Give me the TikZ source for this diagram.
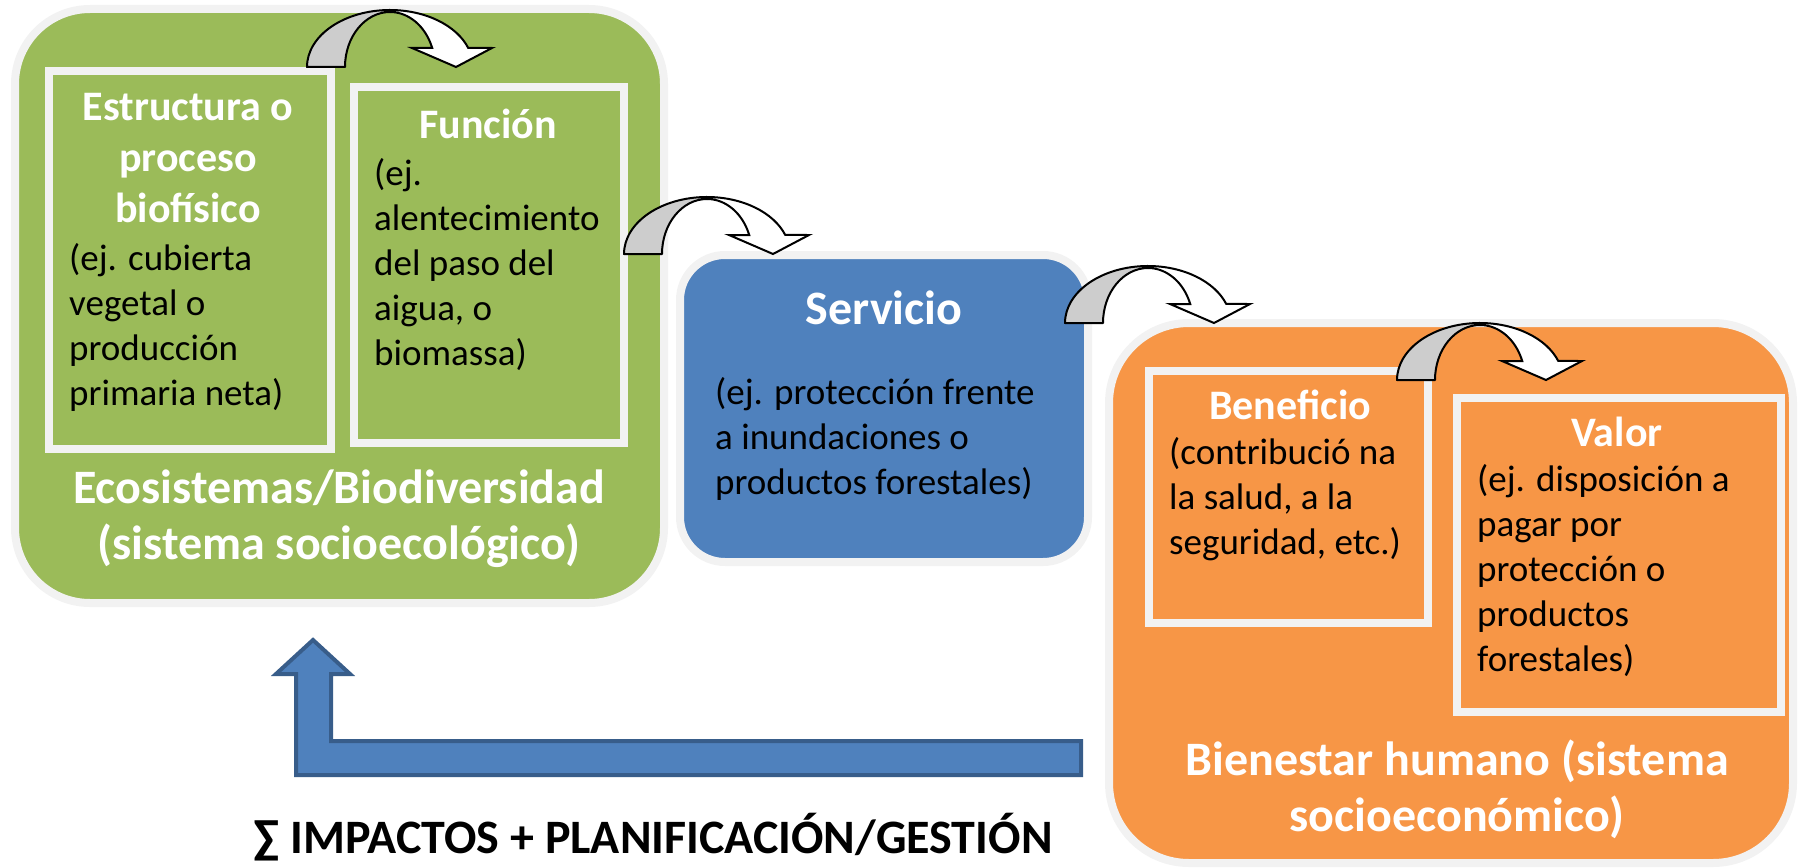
\documentclass[tikz,border=0pt]{standalone}
\usepackage{fontspec}
\setmainfont{Carlito}
\definecolor{eco}{HTML}{9BBB59}
\definecolor{serv}{HTML}{4F81BD}
\definecolor{bien}{HTML}{F79646}
\definecolor{bord}{HTML}{F2F2F2}
\definecolor{arrgray}{HTML}{CDCDCD}
\definecolor{darkblue}{HTML}{385D8A}
\tikzset{
  bigbox/.style={draw=bord, line width=8pt, rounded corners=#1, inner sep=0pt},
  inbox/.style={draw=bord, line width=8pt, inner sep=0pt},
  head/.style={anchor=base, inner sep=0pt, text=white},
  body/.style={anchor=base west, inner sep=0pt, text=black},
  curv/.pic={
    \draw[line width=2pt, fill=arrgray, line join=round]
      (-83,0) arc[start angle=-180, end angle=-90, x radius=83, y radius=57]
      -- (0,-55) arc[start angle=-90, end angle=-180, x radius=45, y radius=55] -- cycle;
    \draw[line width=2pt, fill=white, line join=miter]
      (0,-57) arc[start angle=-90, end angle=-19.5, x radius=83, y radius=57]
      -- (102,-19) -- (66,0) -- (22,-19) -- (42.2,-19)
      arc[start angle=-20.2, end angle=-90, x radius=45, y radius=55] -- cycle;
  }
}
\newcommand\hd[1]{\fontsize{42}{51}\selectfont\bfseries #1}
\newcommand\bd[1]{\fontsize{37}{45}\selectfont #1}
\newcommand\bg[1]{\fontsize{48}{56}\selectfont\bfseries #1}
\begin{document}
\begin{tikzpicture}[x=1pt,y=-1pt]
\useasboundingbox (0,0) rectangle (1798,867);
% big boxes
\node[bigbox=75pt, fill=eco, minimum width=649pt, minimum height=594pt] (ecobox) at (339.5,306) {};
\node[bigbox=45pt, fill=serv, minimum width=408pt, minimum height=307pt] (servbox) at (884,408.5) {};
\node[bigbox=80pt, fill=bien, minimum width=684pt, minimum height=540pt] (bienbox) at (1451,593) {};
% inner boxes
\node[inbox, fill=eco, minimum width=282pt, minimum height=378pt] (estr) at (190,260) {};
\node[inbox, fill=eco, minimum width=270pt, minimum height=356pt] (func) at (489,265) {};
\node[inbox, fill=bien, minimum width=279pt, minimum height=252pt] (bene) at (1288.5,497) {};
\node[inbox, fill=bien, minimum width=324pt, minimum height=314pt] (valor) at (1619,555) {};
% texts green
\node[head] (estrT) at (188,120) {\parbox[t]{290pt}{\centering\hd{Estructura o\\proceso\\biofísico}}};
\node[body] (estrB) at (69,270) {\parbox[t]{260pt}{\raggedright\bd{(ej. cubierta\\vegetal o\\producción\\primaria neta)}}};
\node[head] (funcT) at (488,138) {\parbox[t]{260pt}{\centering\hd{Función}}};
\node[body] (funcB) at (374,185) {\parbox[t]{250pt}{\raggedright\bd{(ej.\\alentecimiento\\del paso del\\aigua, o\\biomassa)}}};
\node[head] (ecoT) at (339,503) {\parbox[t]{640pt}{\centering\bg{Ecosistemas/Biodiversidad\\(sistema socioecológico)}}};
% texts blue
\node[head] (servT) at (884,324) {\parbox[t]{380pt}{\centering\bg{Servicio}}};
\node[body] (servB) at (715,404) {\parbox[t]{360pt}{\raggedright\bd{(ej. protección frente\\a inundaciones o\\productos forestales)}}};
% texts orange
\node[head] (beneT) at (1290,419) {\parbox[t]{270pt}{\centering\hd{Beneficio}}};
\node[body] (beneB) at (1169,464) {\parbox[t]{260pt}{\raggedright\bd{(contribució na\\la salud, a la\\seguridad, etc.)}}};
\node[head] (valorT) at (1617,446) {\parbox[t]{310pt}{\centering\hd{Valor}}};
\node[body] (valorB) at (1477,491) {\parbox[t]{300pt}{\raggedright\bd{(ej. disposición a\\pagar por\\protección o\\productos\\forestales)}}};
\node[head] (bienT) at (1457,775) {\parbox[t]{660pt}{\centering\bg{Bienestar humano (sistema\\socioeconómico)}}};
% curved arrows
\pic at (390,67) {curv};
\pic at (707,254) {curv};
\pic at (1148,323) {curv};
\pic at (1480,380) {curv};
% feedback arrow
\draw[line width=4pt, draw=darkblue, fill=serv, line join=miter]
  (313,640) -- (350,674) -- (331,674) -- (331,741) -- (1081,741) -- (1081,775)
  -- (296,775) -- (296,674) -- (276,674) -- cycle;
\node[anchor=base, inner sep=0pt, text=black] (impact) at (653,853) {\bg{∑ IMPACTOS + PLANIFICACIÓN/GESTIÓN}};
\end{tikzpicture}
\end{document}
